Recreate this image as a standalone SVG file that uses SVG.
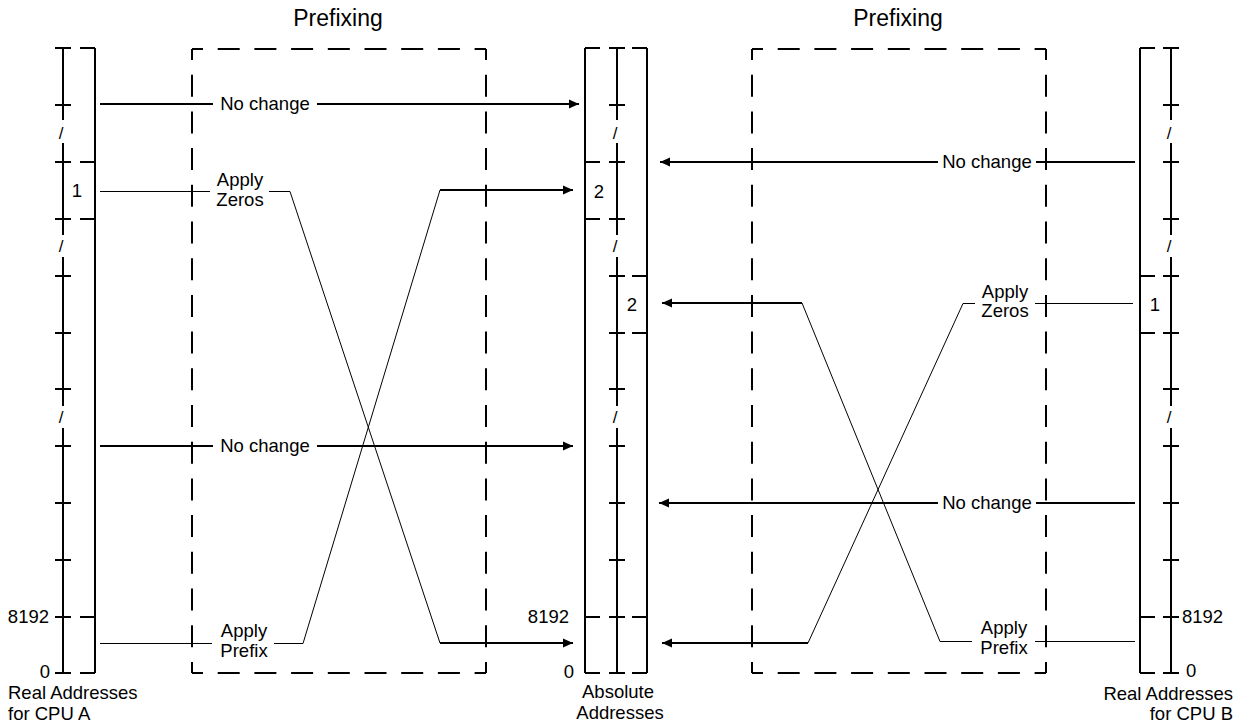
<svg xmlns="http://www.w3.org/2000/svg" width="1237" height="725" viewBox="0 0 1237 725">
<style>
text{font-family:"Liberation Sans",Arial,Helvetica,sans-serif;font-size:18.5px;fill:#000}
.t{font-size:23px}
.m{text-anchor:middle}
.e{text-anchor:end}
.k{stroke:#000;stroke-width:2;fill:none}
.n{stroke:#000;stroke-width:1;fill:none}
.d{stroke:#000;stroke-width:2;fill:none;stroke-dasharray:22 14.7;stroke-dashoffset:11}
.s{font-size:17px}
</style>
<defs>
<marker id="ah" viewBox="0 0 10 10" refX="10" refY="5" markerWidth="10" markerHeight="10" markerUnits="userSpaceOnUse" orient="auto">
<path d="M0,0.5 L10,5 L0,9.5 Z" fill="#000"/>
</marker>
</defs>
<rect width="1237" height="725" fill="#fff"/>

<g id="title-left"><text class="t m" x="338" y="26">Prefixing</text></g>
<g id="title-right"><text class="t m" x="898" y="26">Prefixing</text></g>

<g id="prefix-box-left">
<path class="d" d="M192,49 H486"/><path class="d" d="M192,673 H486"/>
<path class="d" d="M192,49 V673"/><path class="d" d="M486,49 V673"/>
</g>
<g id="prefix-box-right">
<path class="d" d="M752,49 H1046"/><path class="d" d="M752,673 H1046"/>
<path class="d" d="M752,49 V673"/><path class="d" d="M1046,49 V673"/>
</g>

<g id="real-cpu-a">
<path class="k" d="M63,48 V120 M63,143 V235 M63,257 V406 M63,428 V673"/>
<path class="k" d="M55,48 H71 M55,105 H71 M55,162 H71 M55,219 H71 M55,276 H71 M55,333 H71 M55,389 H71 M55,446 H71 M55,503 H71 M55,560 H71 M55,617 H71 M55,673 H71"/>
<path class="k" d="M95,48 V673"/>
<path class="k" d="M80,48 H95 M80,162 H95 M80,219 H95 M80,617 H95 M80,673 H95"/>
<text class="s m" x="61" y="139">/</text>
<text class="s m" x="61" y="252">/</text>
<text class="s m" x="61" y="423">/</text>
<text class="m" x="77" y="197">1</text>
<text class="e" x="49" y="623">8192</text>
<text class="e" x="50" y="678">0</text>
<text x="8" y="699">Real Addresses</text>
<text x="8" y="720">for CPU A</text>
</g>

<g id="absolute">
<path class="k" d="M585,48 V673 M647,48 V673"/>
<path class="k" d="M617,48 V120 M617,143 V235 M617,257 V406 M617,428 V673"/>
<path class="k" d="M609,48 H625 M609,105 H625 M609,162 H625 M609,219 H625 M609,276 H625 M609,333 H625 M609,389 H625 M609,446 H625 M609,503 H625 M609,560 H625 M609,617 H625 M609,673 H625"/>
<path class="k" d="M585,48 H600 M585,162 H600 M585,219 H600 M585,617 H600 M585,673 H600"/>
<path class="k" d="M632,48 H647 M632,276 H647 M632,333 H647 M632,617 H647 M632,673 H647"/>
<text class="s m" x="615" y="139">/</text>
<text class="s m" x="615" y="252">/</text>
<text class="s m" x="615" y="423">/</text>
<text class="m" x="599" y="198">2</text>
<text class="m" x="632" y="311">2</text>
<text class="e" x="569" y="623">8192</text>
<text class="e" x="574" y="678">0</text>
<text class="m" x="618" y="698">Absolute</text>
<text class="m" x="620" y="719">Addresses</text>
</g>

<g id="real-cpu-b">
<path class="k" d="M1140,48 V673"/>
<path class="k" d="M1171,48 V120 M1171,143 V235 M1171,257 V406 M1171,428 V673"/>
<path class="k" d="M1163,48 H1179 M1163,105 H1179 M1163,162 H1179 M1163,219 H1179 M1163,276 H1179 M1163,333 H1179 M1163,389 H1179 M1163,446 H1179 M1163,503 H1179 M1163,560 H1179 M1163,617 H1179 M1163,673 H1179"/>
<path class="k" d="M1140,48 H1155 M1140,276 H1155 M1140,333 H1155 M1140,617 H1155 M1140,673 H1155"/>
<text class="s m" x="1169" y="139">/</text>
<text class="s m" x="1169" y="252">/</text>
<text class="s m" x="1169" y="423">/</text>
<text class="m" x="1155" y="311">1</text>
<text x="1182" y="623">8192</text>
<text x="1186" y="677">0</text>
<text class="e" x="1233" y="700">Real Addresses</text>
<text class="e" x="1233" y="720">for CPU B</text>
</g>

<g id="connectors">
<!-- left side -->
<path class="k" d="M100,104 H213"/>
<path class="k" d="M317,104 H579" marker-end="url(#ah)"/>
<text class="m" x="265" y="110">No change</text>

<path class="n" d="M100,191.5 H210 M269,191.5 H290 L440,643"/>
<path class="k" d="M440,643 H573" marker-end="url(#ah)"/>
<text class="m" x="240" y="186">Apply</text>
<text class="m" x="240" y="206">Zeros</text>

<path class="k" d="M100,446 H213"/>
<path class="k" d="M317,446 H573" marker-end="url(#ah)"/>
<text class="m" x="265" y="452">No change</text>

<path class="n" d="M100,643.5 H212 M274,643.5 H303 L440,190"/>
<path class="k" d="M440,190 H573" marker-end="url(#ah)"/>
<text class="m" x="244" y="637">Apply</text>
<text class="m" x="244" y="657">Prefix</text>

<!-- right side -->
<path class="k" d="M1135,162 H1036"/>
<path class="k" d="M938,162 H660" marker-end="url(#ah)"/>
<text class="m" x="987" y="168">No change</text>

<path class="n" d="M1133,303.5 H1035 M975,303.5 H963 L808,643"/>
<path class="k" d="M808,643 H662" marker-end="url(#ah)"/>
<text class="m" x="1005" y="298">Apply</text>
<text class="m" x="1005" y="317">Zeros</text>

<path class="k" d="M1135,503 H1036"/>
<path class="k" d="M938,503 H659" marker-end="url(#ah)"/>
<text class="m" x="987" y="509">No change</text>

<path class="n" d="M1135,641.5 H1035 M972,641.5 H940 L802,303"/>
<path class="k" d="M802,303 H662" marker-end="url(#ah)"/>
<text class="m" x="1004" y="634">Apply</text>
<text class="m" x="1004" y="654">Prefix</text>
</g>
</svg>
